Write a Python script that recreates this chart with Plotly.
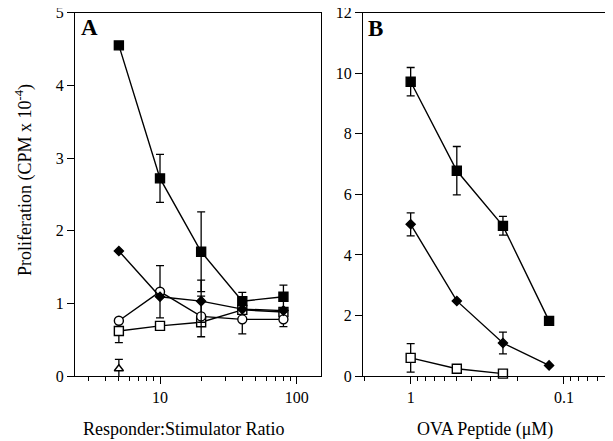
import math
import plotly.graph_objects as go

# ---------------- data ----------------
# Panel A: Responder:Stimulator ratio
ratio = [5, 10, 20, 40, 80]
a_filled_sq = [4.55, 2.72, 1.71, 1.03, 1.09]
a_filled_sq_err = [0.0, 0.33, 0.55, 0.12, 0.16]
a_diamond = [1.72, 1.09, 1.03, 0.92, 0.90]
a_diamond_err = [0.0, 0.0, 0.29, 0.0, 0.0]
a_open_circle = [0.76, 1.16, 0.82, 0.78, 0.78]
a_open_circle_err = [0.0, 0.36, 0.28, 0.20, 0.10]
a_open_sq = [0.62, 0.69, 0.74, 0.91, 0.88]
a_open_sq_err = [0.16, 0.0, 0.0, 0.0, 0.0]
a_triangle_x = [5]
a_triangle = [0.10]
a_triangle_err = [0.13]

# Panel B: OVA peptide (uM)
peptide = [1, 0.5, 0.25, 0.125]
b_filled_sq = [9.72, 6.78, 4.96, 1.82]
b_filled_sq_err = [0.47, 0.80, 0.31, 0.0]
b_diamond = [5.01, 2.48, 1.09, 0.35]
b_diamond_err = [0.38, 0.0, 0.36, 0.0]
b_open_sq_x = [1, 0.5, 0.25]
b_open_sq = [0.60, 0.24, 0.08]
b_open_sq_err = [0.47, 0.0, 0.0]

a_xticks = [10, 100]
a_xticklabels = ["10", "100"]
a_minor = [3, 4, 5, 6, 7, 8, 9, 20, 30, 40, 50, 60, 70, 80, 90]
b_xticks = [1, 0.1]
b_xticklabels = ["1", "0.1"]
b_minor = [2, 0.9, 0.8, 0.7, 0.6, 0.5, 0.4, 0.3, 0.2, 0.09, 0.08, 0.07, 0.06]
a_yticks = [0, 1, 2, 3, 4, 5]
b_yticks = [0, 2, 4, 6, 8, 10, 12]

FONT = "Liberation Serif, Times New Roman, serif"
BLACK = "black"

fig = go.Figure()


def add(x, y, err, symbol, fill, size, xa, ya):
    fig.add_trace(go.Scatter(
        x=x, y=y, xaxis=xa, yaxis=ya, mode="lines+markers",
        line=dict(color=BLACK, width=1.4),
        marker=dict(symbol=symbol, size=size, color=fill,
                    line=dict(color=BLACK, width=1.4)),
        error_y=dict(type="data", array=err, visible=True, color=BLACK,
                     thickness=1.3, width=4),
        cliponaxis=False, showlegend=False))


add(ratio, a_open_sq, a_open_sq_err, "square", "white", 9, "x", "y")
add(ratio, a_open_circle, a_open_circle_err, "circle", "white", 9, "x", "y")
add(ratio, a_diamond, a_diamond_err, "diamond", BLACK, 7, "x", "y")
add(ratio, a_filled_sq, a_filled_sq_err, "square", BLACK, 9, "x", "y")
fig.add_trace(go.Scatter(
    x=a_triangle_x, y=a_triangle, xaxis="x", yaxis="y", mode="markers",
    marker=dict(symbol="triangle-up", size=8, color="white",
                line=dict(color=BLACK, width=1.4)),
    error_y=dict(type="data", array=a_triangle_err, visible=True, color=BLACK,
                 thickness=1.3, width=4),
    cliponaxis=False, showlegend=False))

add(b_open_sq_x, b_open_sq, b_open_sq_err, "square", "white", 9, "x2", "y2")
add(peptide, b_diamond, b_diamond_err, "diamond", BLACK, 7, "x2", "y2")
add(peptide, b_filled_sq, b_filled_sq_err, "square", BLACK, 9, "x2", "y2")

# The page body has an 8px margin, so the figure is drawn at (8, 8).
OFF = 8
W, H = 613 - OFF, 441 - OFF


def px(x):
    return (x - OFF) / W


def py(y):
    return 1 - (y - OFF) / H


axis_common = dict(showline=True, linecolor=BLACK, linewidth=1.3, mirror=True,
                   ticks="outside", ticklen=7, tickwidth=1.2, tickcolor=BLACK,
                   showgrid=False, zeroline=False, automargin=False,
                   ticklabeloverflow="allow",
                   tickfont=dict(family=FONT, size=16, color=BLACK))

fig.update_layout(
    width=W, height=H,
    margin=dict(l=0, r=0, t=0, b=0, autoexpand=False),
    paper_bgcolor="white", plot_bgcolor="white",
    font=dict(family=FONT, color=BLACK),
    xaxis=dict(axis_common, type="log", domain=[px(75), px(321)],
               range=[0.378, 2.178], tickvals=a_xticks, ticktext=a_xticklabels,
               minor=dict(tickvals=a_minor, ticks="outside", ticklen=4,
                          tickwidth=1, tickcolor=BLACK),
               anchor="y"),
    yaxis=dict(axis_common, domain=[py(376), py(12.7)], range=[0, 5],
               tickvals=a_yticks, anchor="x"),
    xaxis2=dict(axis_common, type="log", domain=[px(363), px(609)],
                range=[0.311, -1.294], tickvals=b_xticks, ticktext=b_xticklabels,
                minor=dict(tickvals=b_minor, ticks="outside", ticklen=4,
                           tickwidth=1, tickcolor=BLACK),
                anchor="y2"),
    yaxis2=dict(axis_common, domain=[py(376), py(12.7)], range=[0, 12],
                tickvals=b_yticks, anchor="x2"),
)

ann = [
    dict(text="<b>A</b>", x=89, y=27, size=23),
    dict(text="<b>B</b>", x=375, y=29, size=23),
    dict(text="Responder:Stimulator Ratio", x=183, y=429, size=18),
    dict(text="OVA Peptide (μM)", x=485, y=429, size=18),
]
for a in ann:
    fig.add_annotation(text=a["text"], x=px(a["x"]), y=py(a["y"]), xref="paper",
                       yref="paper", showarrow=False, xanchor="center",
                       yanchor="middle", font=dict(family=FONT, size=a["size"],
                                                   color=BLACK))
fig.add_annotation(text="Proliferation (CPM x 10<sup>-4</sup>)", x=px(24),
                   y=py(180), xref="paper", yref="paper", showarrow=False,
                   textangle=-90, xanchor="center", yanchor="middle",
                   font=dict(family=FONT, size=18, color=BLACK))

fig.write_html("out.html")
